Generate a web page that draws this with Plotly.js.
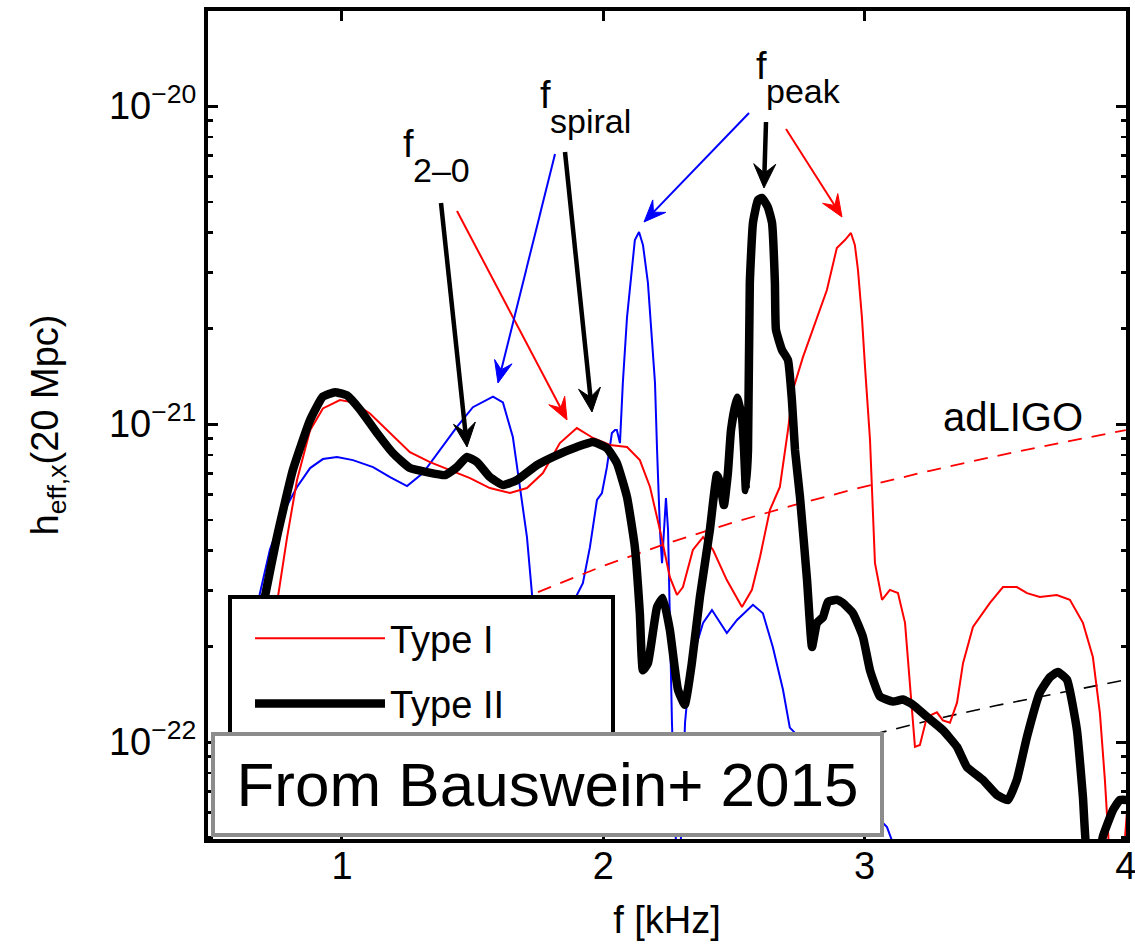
<!DOCTYPE html>
<html><head><meta charset="utf-8">
<script src="https://cdn.plot.ly/plotly-3.0.1.min.js"></script>
<style>html,body{margin:0;padding:0;background:#fff}#chart{width:1135px;height:945px}</style>
</head><body><div id="chart"></div>
<script>
const FONT = 'Liberation Sans, Arial, Helvetica, sans-serif';

// Type II (black, thick)
const typeII_f = [0.629,0.705,0.751,0.812,0.878,0.927,0.973,1.019,1.069,1.134,1.195,1.260,1.325,1.394,1.440,1.478,1.517,1.566,1.616,1.670,1.746,1.823,1.899,1.961,2.014,2.052,2.091,2.121,2.140,2.152,2.171,2.206,2.228,2.255,2.286,2.312,2.339,2.370,2.408,2.435,2.447,2.462,2.477,2.489,2.512,2.531,2.539,2.546,2.554,2.561,2.573,2.592,2.607,2.630,2.646,2.657,2.661,2.684,2.707,2.722,2.734,2.753,2.780,2.799,2.818,2.841,2.860,2.894,2.917,2.956,2.994,3.021,3.059,3.109,3.147,3.185,3.239,3.300,3.354,3.392,3.453,3.507,3.549,3.583,3.622,3.671,3.710,3.740,3.775,3.813,3.836,3.855,3.889,3.912,3.951,3.977,4.004];
const typeII_h = [1.36e-22,2.86e-22,4.41e-22,7.17e-22,1.03e-21,1.22e-21,1.26e-21,1.23e-21,1.11e-21,9.37e-22,8.10e-22,7.27e-22,7.06e-22,6.91e-22,7.32e-22,7.88e-22,7.59e-22,6.81e-22,6.43e-22,6.67e-22,7.43e-22,7.99e-22,8.47e-22,8.78e-22,8.40e-22,7.54e-22,5.89e-22,4.10e-22,2.54e-22,1.68e-22,1.77e-22,2.66e-22,2.84e-22,2.25e-22,1.46e-22,1.31e-22,1.77e-22,2.86e-22,4.64e-22,6.91e-22,6.52e-22,5.56e-22,7.01e-22,9.57e-22,1.21e-21,1.05e-21,8.28e-22,6.20e-22,8.28e-22,2.78e-21,4.29e-21,5.06e-21,5.14e-21,4.81e-21,4.29e-21,2.78e-21,1.98e-21,1.71e-21,1.59e-21,1.19e-21,8.28e-22,5.89e-22,3.23e-22,1.99e-22,2.37e-22,2.47e-22,2.76e-22,2.80e-22,2.74e-22,2.54e-22,2.14e-22,1.68e-22,1.39e-22,1.34e-22,1.36e-22,1.31e-22,1.20e-22,1.09e-22,9.65e-23,8.34e-23,7.60e-23,6.81e-23,6.57e-23,7.60e-23,1.04e-22,1.43e-22,1.60e-22,1.66e-22,1.57e-22,1.09e-22,6.71e-23,4.2e-23,4.0e-23,5.03e-23,6.11e-23,6.57e-23,6.57e-23];

// Type I (red, thin)
const typeI_f = [0.709,0.755,0.790,0.828,0.878,0.927,0.992,1.042,1.107,1.184,1.260,1.337,1.413,1.490,1.566,1.643,1.708,1.769,1.834,1.899,1.961,2.026,2.091,2.140,2.179,2.217,2.255,2.282,2.305,2.343,2.382,2.420,2.473,2.531,2.569,2.600,2.638,2.676,2.707,2.726,2.764,2.810,2.856,2.894,2.925,2.948,2.963,2.975,2.990,3.002,3.021,3.040,3.067,3.097,3.128,3.155,3.174,3.193,3.212,3.239,3.277,3.300,3.327,3.354,3.377,3.415,3.480,3.530,3.583,3.622,3.671,3.736,3.786,3.836,3.874,3.901,3.920,3.939,3.977,3.997,4.008];
const typeI_h = [1.36e-22,2.86e-22,4.41e-22,6.67e-22,9.57e-22,1.12e-21,1.19e-21,1.17e-21,1.08e-21,9.37e-22,8.16e-22,7.59e-22,7.17e-22,6.76e-22,6.29e-22,6.07e-22,6.29e-22,7.01e-22,8.71e-22,9.71e-22,9.04e-22,8.59e-22,8.47e-22,7.70e-22,6.34e-22,4.64e-22,3.30e-22,2.90e-22,3.07e-22,4.02e-22,4.41e-22,4.02e-22,3.23e-22,2.66e-22,3.01e-22,3.82e-22,5.37e-22,6.34e-22,9.57e-22,1.28e-21,1.62e-21,2.08e-21,2.64e-21,3.58e-21,3.79e-21,3.99e-21,3.66e-21,3.05e-21,2.17e-21,1.51e-21,8.91e-22,3.65e-22,2.80e-22,3.01e-22,2.94e-22,2.37e-22,1.46e-22,9.65e-23,9.79e-23,1.20e-22,1.24e-22,1.17e-22,1.15e-22,1.33e-22,1.77e-22,2.30e-22,2.74e-22,3.07e-22,3.07e-22,2.94e-22,2.86e-22,2.90e-22,2.80e-22,2.37e-22,1.85e-22,1.23e-22,7.60e-23,4.2e-23,4.0e-23,5.0e-23,6.6e-23];

// Type III (blue, thin, not in legend)
const typeIII_f = [0.610,0.686,0.724,0.774,0.828,0.878,0.927,0.981,1.042,1.119,1.184,1.249,1.310,1.375,1.440,1.501,1.578,1.616,1.654,1.681,1.708,1.727,1.796,1.853,1.899,1.922,1.949,1.976,1.995,2.014,2.033,2.045,2.052,2.064,2.075,2.091,2.110,2.121,2.137,2.152,2.171,2.186,2.198,2.206,2.217,2.225,2.240,2.248,2.263,2.278,2.297,2.313,2.339,2.359,2.382,2.416,2.447,2.473,2.512,2.573,2.611,2.649,2.688,2.714,3.086,3.109];
const typeIII_h = [1.46e-22,2.94e-22,4.02e-22,5.25e-22,6.34e-22,7.27e-22,7.76e-22,7.88e-22,7.70e-22,7.32e-22,6.81e-22,6.38e-22,7.01e-22,8.28e-22,9.79e-22,1.13e-21,1.22e-21,1.17e-21,9.10e-22,6.34e-22,4.41e-22,2.94e-22,6.57e-23,8.8e-23,2.90e-22,3.16e-22,4.10e-22,5.77e-22,6.07e-22,7.32e-22,9.37e-22,9.57e-22,9.57e-22,8.71e-22,1.35e-21,2.17e-21,3.12e-21,3.79e-21,4.02e-21,3.66e-21,2.78e-21,1.93e-21,1.35e-21,8.28e-22,4.64e-22,3.65e-22,5.85e-22,4.64e-22,1.15e-22,4.9e-23,4.9e-23,1.15e-22,1.95e-22,2.05e-22,2.37e-22,2.60e-22,2.37e-22,2.20e-22,2.42e-22,2.70e-22,2.54e-22,1.99e-22,1.46e-22,1.11e-22,5.40e-23,4.8e-23];

// adLIGO sensitivity (red dashed) and lower detector curve (black dashed)
const adligo_f = [1.5,1.75,2.0,2.25,2.5,2.75,3.0,3.25,3.5,3.75,4.0];
const adligo_h = [2.38e-22,2.96e-22,3.58e-22,4.23e-22,4.91e-22,5.62e-22,6.36e-22,7.13e-22,7.92e-22,8.73e-22,9.57e-22];
const lower_f = [2.5,2.75,3.0,3.25,3.5,3.75,4.0];
const lower_h = [8.04e-23,9.20e-23,1.04e-22,1.17e-22,1.30e-22,1.43e-22,1.57e-22];

// axis ticks
const xTickVals = [1,2,3,4];
const xTickText = ['1','2','3','4'];
const yTickVals = [1e-22,1e-21,1e-20];
const yTickText = ['10<sup>−22</sup>','10<sup>−21</sup>','10<sup>−20</sup>'];

const yMinor = [];
for (const e of [-23,-22,-21,-20]) for (let m = 2; m <= 9; m++) yMinor.push(m * Math.pow(10, e));

// plot-area geometry (pixels) used to place decorations in paper coordinates
const L = 208, R = 1126, T = 11, B = 839;
const P = px => (px - L) / (R - L);
const Q = py => (B - py) / (B - T);

const traces = [
  {x: typeIII_f, y: typeIII_h, type: 'scatter', mode: 'lines', name: 'Type III', showlegend: false,
   line: {color: '#0000ff', width: 2}},
  {x: adligo_f, y: adligo_h, type: 'scatter', mode: 'lines', name: 'adLIGO', showlegend: false,
   line: {color: '#ff0000', width: 1.8, dash: '14px,10px'}},
  {x: lower_f, y: lower_h, type: 'scatter', mode: 'lines', name: 'detector (lower)', showlegend: false,
   line: {color: '#000000', width: 1.6, dash: '14px,10px'}},
  {x: typeI_f, y: typeI_h, type: 'scatter', mode: 'lines', name: 'Type I', legendgroup: 'a',
   line: {color: '#ff0000', width: 2}},
  {x: typeII_f, y: typeII_h, type: 'scatter', mode: 'lines', name: 'Type II', legendgroup: 'b',
   line: {color: '#000000', width: 8.5, shape: 'spline', smoothing: 0.4}}
];

// annotation arrows drawn as shapes: shaft + barbed head (pixel positions -> paper coords)
function arrowShapes(tail, head, color, w, len, hw) {
  const dx = head[0] - tail[0], dy = head[1] - tail[1];
  const d = Math.hypot(dx, dy), ux = dx / d, uy = dy / d, nx = -uy, ny = ux;
  const bx = head[0] - ux * len, by = head[1] - uy * len;
  const kx = head[0] - ux * len * 0.62, ky = head[1] - uy * len * 0.62;
  const pt = (x, y) => P(x).toFixed(5) + ',' + Q(y).toFixed(5);
  return [
    {type: 'line', xref: 'paper', yref: 'paper', x0: P(tail[0]), y0: Q(tail[1]), x1: P(kx), y1: Q(ky),
     line: {color: color, width: w}, layer: 'above'},
    {type: 'path', xref: 'paper', yref: 'paper', layer: 'above', fillcolor: color, line: {color: color, width: 1},
     path: 'M' + pt(head[0], head[1]) + 'L' + pt(bx + nx * hw, by + ny * hw) + 'L' + pt(kx, ky) +
           'L' + pt(bx - nx * hw, by - ny * hw) + 'Z'}
  ];
}

function label(txt, px, py, size) {
  return {text: txt, x: P(px), y: Q(py), xref: 'paper', yref: 'paper', showarrow: false,
    xanchor: 'center', yanchor: 'middle', font: {family: FONT, size: size, color: '#000'}};
}

const annotations = [
  label('f', 408, 144, 38), label('2–0', 441, 170, 34),
  label('f', 545, 95, 38), label('spiral', 590, 121, 34),
  label('f', 761, 66, 38), label('peak', 803, 91, 34),
  label('adLIGO', 1013, 417, 40),
  {text: 'From Bauswein+ 2015', x: P(547.5), y: Q(784.5), xref: 'paper', yref: 'paper',
   showarrow: false, xanchor: 'center', yanchor: 'middle', width: 665, height: 97,
   bgcolor: '#ffffff', bordercolor: '#8c8c8c', borderwidth: 4, borderpad: 0,
   font: {family: FONT, size: 62, color: '#000'}}
];

const shapes = [].concat(
  arrowShapes([441, 203], [467, 447], '#000000', 4.5, 24, 11),
  arrowShapes([457, 211], [567, 420], '#ff0000', 2, 22, 9),
  arrowShapes([555, 154], [498, 383], '#0000ff', 2, 22, 9),
  arrowShapes([565, 152], [592, 412], '#000000', 4.5, 24, 11),
  arrowShapes([749, 113], [644, 222], '#0000ff', 2, 22, 9),
  arrowShapes([766, 122], [764, 188], '#000000', 4.5, 24, 11),
  arrowShapes([786, 129], [842, 217], '#ff0000', 2, 22, 9),
  [{type: 'rect', xref: 'paper', yref: 'paper', x0: P(230), x1: P(613), y0: Q(760), y1: Q(597),
    fillcolor: '#ffffff', line: {color: '#000', width: 4}, layer: 'above'}]
);

const axisCommon = {
  showline: true, linecolor: '#000', linewidth: 4, mirror: 'ticks',
  ticks: 'inside', ticklen: 10, tickwidth: 3, tickcolor: '#000',
  showgrid: false, zeroline: false, ticklabeloverflow: 'allow',
  tickfont: {family: FONT, size: 38, color: '#000'}
};

const layout = {
  width: 1135, height: 945,
  margin: {l: L, r: 1135 - R, t: T, b: 945 - B, pad: 0},
  paper_bgcolor: '#fff', plot_bgcolor: '#fff',
  font: {family: FONT, color: '#000'},
  showlegend: true,
  legend: {x: P(250), y: Q(607), xanchor: 'left', yanchor: 'top',
    bgcolor: 'rgba(0,0,0,0)', borderwidth: 0, itemwidth: 130, tracegroupgap: 13,
    traceorder: 'grouped', font: {family: FONT, size: 38, color: '#000'}},
  xaxis: Object.assign({}, axisCommon, {
    range: [0.4872, 4.0008], tickmode: 'array', tickvals: xTickVals, ticktext: xTickText,
    ticklabelstandoff: -10,
    title: {text: 'f [kHz]', font: {family: FONT, size: 38, color: '#000'}, standoff: 22}
  }),
  yaxis: Object.assign({}, axisCommon, {
    type: 'log', range: [-22.305, -19.701], tickmode: 'array', tickvals: yTickVals, ticktext: yTickText,
    minor: {tickmode: 'array', tickvals: yMinor, ticks: 'inside', ticklen: 5, tickwidth: 2.5, tickcolor: '#000'},
    title: {text: 'h<sub>eff,x</sub>(20 Mpc)', font: {family: FONT, size: 38, color: '#000'}, standoff: 40}
  }),
  shapes: shapes,
  annotations: annotations
};

Plotly.newPlot('chart', traces, layout, {staticPlot: true, displayModeBar: false});
</script></body></html>
